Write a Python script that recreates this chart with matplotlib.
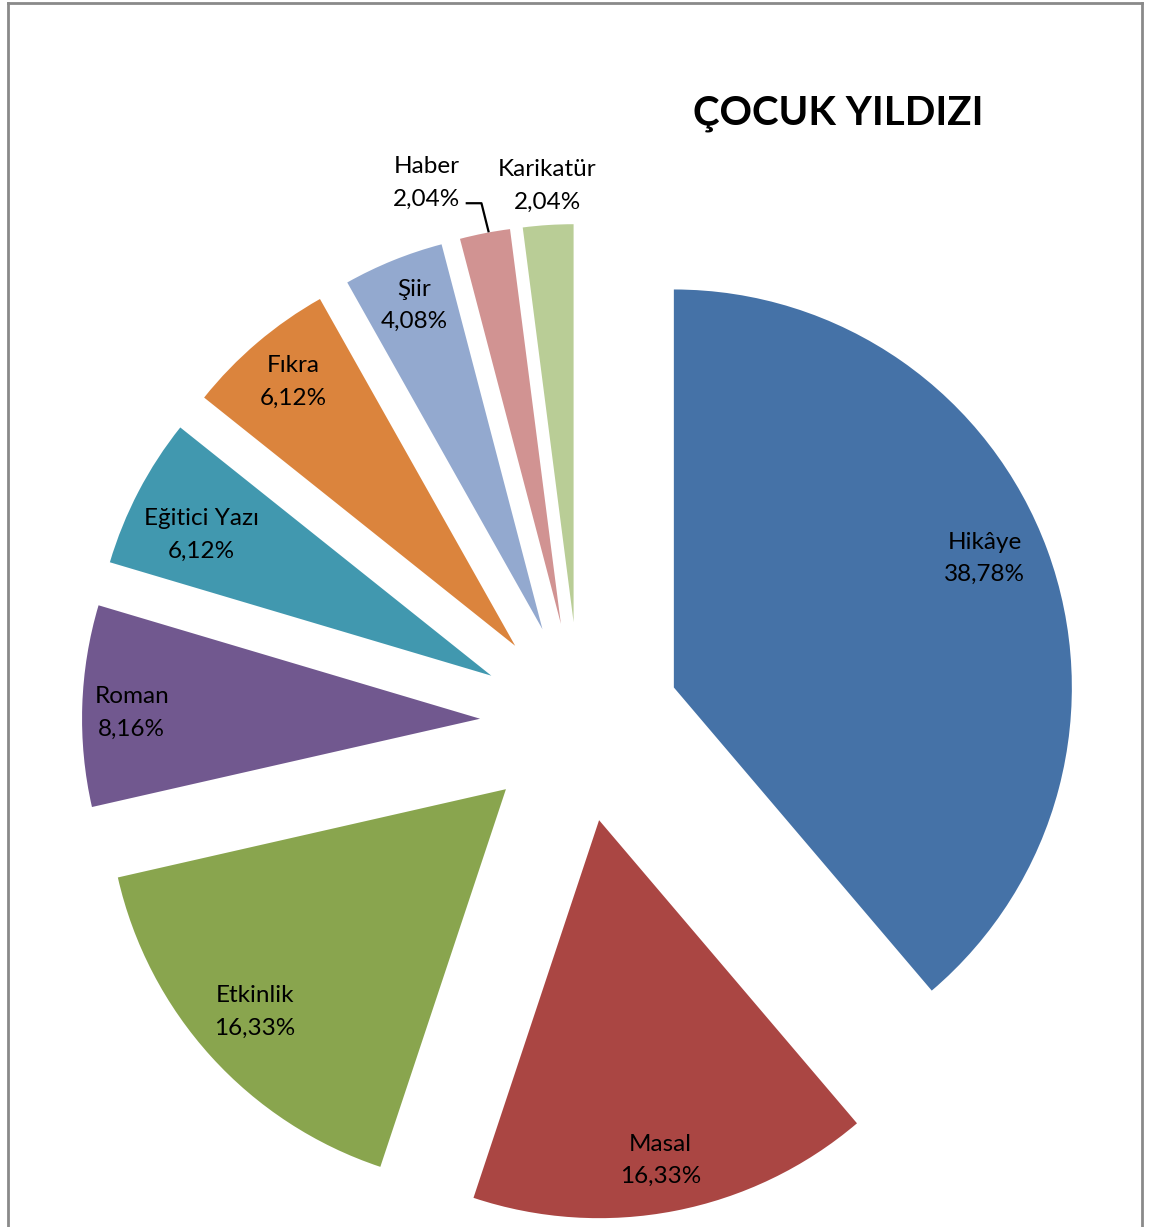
#!/usr/bin/env python3
"""Exploded pie chart: ÇOCUK YILDIZI content types."""

import math

import matplotlib

matplotlib.use("Agg")
import matplotlib.pyplot as plt
from matplotlib.lines import Line2D

CATEGORIES = ["Hikâye", "Masal", "Etkinlik", "Roman", "Eğitici Yazı",
              "Fıkra", "Şiir", "Haber", "Karikatür"]
PERCENTS = [38.78, 16.33, 16.33, 8.16, 6.12, 6.12, 4.08, 2.04, 2.04]
PCT_LABELS = ["38,78%", "16,33%", "16,33%", "8,16%", "6,12%",
              "6,12%", "4,08%", "2,04%", "2,04%"]
TITLE = "ÇOCUK YILDIZI"

COLORS = ["#4572A7", "#AA4643", "#89A54E", "#71588F", "#4198AF",
          "#DB843D", "#93A9CF", "#D19392", "#B9CD96"]

# label placement: radial factor of radius, angle tweak in degrees
LABEL_DIST = [0.845, 0.868, 0.843, 0.875, 0.81, 0.867, 0.876, 1.158, 1.098]
LABEL_DANG = [2.3, -0.8, -0.6, 0.9, 1.7, -0.3, -0.4, 5.9, -0.2]

W, H = 1153, 1227
CX, CY, R, EXPLODE = 580, H - 722, 398, 100

plt.rcParams["font.family"] = ["Lato", "DejaVu Sans"]

fig = plt.figure(figsize=(W / 100, H / 100), dpi=100)
ax = fig.add_axes([0, 0, 1, 1])

wedges, _ = ax.pie(
    PERCENTS,
    colors=COLORS,
    startangle=90,
    counterclock=False,
    radius=R,
    center=(CX, CY),
    explode=[EXPLODE] * len(PERCENTS),
    wedgeprops=dict(linewidth=0),
    frame=True,
)
ax.set_xlim(0, W)
ax.set_ylim(0, H)
ax.set_aspect("equal")
ax.axis("off")

for i, w in enumerate(wedges):
    mid = 0.5 * (w.theta1 + w.theta2)
    ang = math.radians(mid + LABEL_DANG[i])
    wx, wy = w.center
    tx = wx + LABEL_DIST[i] * R * math.cos(ang)
    ty = wy + LABEL_DIST[i] * R * math.sin(ang)
    ax.text(tx, ty, f"{CATEGORIES[i]}\n{PCT_LABELS[i]}", ha="center", va="center",
            fontsize=17.5, linespacing=1.65, color="black")
    if CATEGORIES[i] == "Haber":
        # leader line from the slice edge to the label
        m = math.radians(mid)
        ex = wx + R * 1.005 * math.cos(m)
        ey = wy + R * 1.005 * math.sin(m)
        ax.add_line(Line2D([ex + 4, ex - 3, tx + 40], [ey, ey + 28, ey + 28],
                           color="black", lw=1.6))

ax.text(838, H - 125, TITLE, ha="center", va="baseline",
        fontsize=29, fontweight="bold", color="black")

# outer chart frame (bottom edge falls outside the picture)
frame_kw = dict(color="#8a8a8a", lw=2.0, clip_on=False)
ax.add_line(Line2D([8, 8], [0, H - 3], **frame_kw))
ax.add_line(Line2D([8, 1142], [H - 3, H - 3], **frame_kw))
ax.add_line(Line2D([1142, 1142], [0, H - 3], **frame_kw))

fig.savefig("out.png", dpi=100, facecolor="white")
